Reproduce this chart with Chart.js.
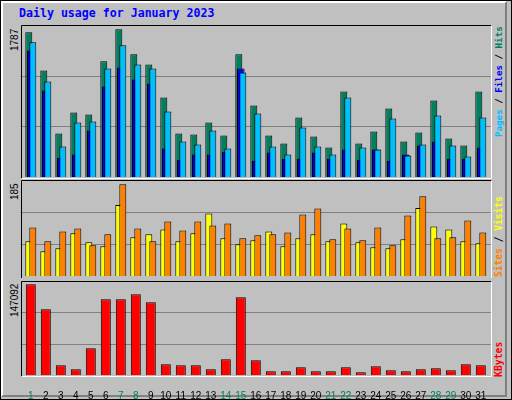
<!DOCTYPE html>
<html><head><meta charset="utf-8">
<script src="https://cdn.jsdelivr.net/npm/chart.js@4"></script>
<style>
html,body{margin:0;padding:0;}
body{width:512px;height:400px;position:relative;background:#C0C0C0;overflow:hidden;}
#outer{position:absolute;left:0;top:0;width:510px;height:398px;border:1px solid #000;}
#bev{position:absolute;left:1px;top:1px;width:502px;height:392px;border-left:2px solid #fff;border-top:2px solid #fff;border-right:2px solid #808080;border-bottom:2px solid #808080;}
canvas{position:absolute;left:0;}
.t{position:absolute;font-family:"DejaVu Sans Mono",monospace;font-weight:bold;}
.v{position:absolute;white-space:nowrap;transform-origin:0 0;transform:rotate(-90deg);}
</style></head><body>
<div id="outer"></div><div id="bev"></div>
<div class="t" style="left:19px;top:6px;font-size:11.6px;color:#0000FF;">Daily usage for January 2023</div>
<div class="v" style="left:9px;top:51px;font:10px 'Liberation Sans';color:#000;">1787</div>
<div class="v" style="left:9px;top:200px;font:10px 'Liberation Sans';color:#000;">185</div>
<div class="v" style="left:9px;top:317px;font:10px 'Liberation Sans';color:#000;">147092</div>
<div class="v t" style="left:493px;top:137px;font-size:9.2px;"><span style="color:#00BFFF">Pages</span><span style="color:#000"> / </span><span style="color:#0000FF">Files</span><span style="color:#000"> / </span><span style="color:#008060">Hits</span></div>
<div class="v t" style="left:493px;top:277px;font-size:9.6px;"><span style="color:#FF8000">Sites</span><span style="color:#000"> / </span><span style="color:#FFFF00">Visits</span></div>
<div class="v t" style="left:493px;top:377px;font-size:9.8px;color:#FF0000;">KBytes</div>
<canvas id="c1" width="512" height="180" style="top:0;width:512px;height:180px"></canvas>
<canvas id="c2" width="512" height="100" style="top:178px;width:512px;height:100px"></canvas>
<canvas id="c3" width="512" height="125" style="top:275px;width:512px;height:125px"></canvas>
<script>
const days = Array.from({length:31},(_,i)=>String(i+1));
const weekend = [1,7,8,14,15,21,22,28,29];
const hits  = [1751,1290,526,780,756,1399,1787,1484,1362,962,526,513,659,501,1484,865,501,404,720,489,356,1035,404,550,829,429,538,926,465,380,1035];
const files = [1629,1156,368,659,671,1314,1593,1362,1314,792,429,392,562,344,1265,768,368,271,598,368,271,962,356,332,708,259,392,744,380,247,720];
const pages = [1532,1047,234,271,562,1096,1326,1181,1132,344,210,271,271,307,1314,198,295,222,222,295,222,332,210,332,198,271,380,429,222,222,356];
const sites = [70,50,56,86,68,60,143,78,84,94,70,86,126,76,64,72,90,60,76,84,70,106,68,58,56,74,137,100,94,70,66];
const visits= [98,70,90,96,62,84,185,96,70,110,92,110,102,106,76,82,84,88,124,136,74,96,72,98,62,122,161,76,78,112,88];
const kbytes= [147092,106680,16164,9698,43643,122846,122846,130928,118000,17780,16164,16164,9698,25862,126079,24246,6466,6466,12931,6466,6466,12931,4849,14548,8082,6466,9698,11315,8082,17780,16164];
const maxHits=1787, maxVisits=185, maxKB=147092;

const framePlugin = {
  id:'frame',
  beforeDatasetsDraw(chart){
    const a=chart.chartArea, ctx=chart.ctx, y=chart.scales.y;
    const L=a.left-2.6, R=a.right+2.4;
    ctx.save(); ctx.strokeStyle='#808080'; ctx.lineWidth=1;
    y.ticks.forEach(t=>{ if(t.value>0 && t.value<y.max){const py=Math.round(y.getPixelForValue(t.value))+0.5; ctx.beginPath();ctx.moveTo(L,py);ctx.lineTo(R,py);ctx.stroke();}});
    ctx.restore();
    // draw datasets in index order so later datasets sit on top
    for(let i=0;i<chart.data.datasets.length;i++){ chart.getDatasetMeta(i).controller.draw(); }
    return false;
  },
  afterDraw(chart){
    const a=chart.chartArea, ctx=chart.ctx, o=chart.options.plugins.frame;
    const L=Math.round(a.left-2.6)+0.5, R=Math.round(a.right+2.4)+0.5, T=Math.round(a.top-o.top)+0.5, B=Math.round(a.bottom+o.bot)+0.5;
    ctx.save(); ctx.lineWidth=1;
    ctx.strokeStyle='#000'; ctx.beginPath(); ctx.moveTo(L,B); ctx.lineTo(L,T); ctx.lineTo(R,T); ctx.stroke();
    ctx.strokeStyle='#fff'; ctx.beginPath(); ctx.moveTo(R,T); ctx.lineTo(R,B); ctx.lineTo(L,B); ctx.stroke();
    ctx.restore();
  }
};

function makeChart(id, datasets, max, pad, showX, cp, frame){
  return new Chart(document.getElementById(id), {
    type:'bar',
    data:{labels:days, datasets},
    options:{
      responsive:false, animation:false, devicePixelRatio:1,
      layout:{padding:pad},
      plugins:{legend:{display:false}, tooltip:{enabled:false}, frame},
      scales:{
        x:{display:showX, grid:{display:false}, border:{display:false},
           afterFit:s=>{ if(showX) s.height=24.7; },
           ticks:{padding:7, maxRotation:0, autoSkip:false, font:{family:'Liberation Sans',size:10},
             color:c=>weekend.includes(c.index+1)?'#008060':'#000'}},
        y:{display:true, min:0, max:max, afterFit:s=>{s.width=0;},
           ticks:{display:false, stepSize:max/3}, grid:{display:false}, border:{display:false}}
      },
      datasets:{bar:{categoryPercentage:cp}}
    },
    plugins:[framePlugin]
  });
}

makeChart('c1',[
  {data:hits, backgroundColor:'#008060', borderColor:'#000', borderWidth:1, barPercentage:3.5},
  {data:pages, backgroundColor:'#0000FF', borderColor:'#000', borderWidth:1, barPercentage:3.8},
  {data:files, backgroundColor:'#00BFFF', borderColor:'#000', borderWidth:1, barPercentage:3.5}
], maxHits*151.7/147.7, {left:23.3, right:23.7, top:25.3, bottom:3}, false, 0.4, {top:0,bot:1});

makeChart('c2',[
  {data:sites, backgroundColor:'#FFFF00', borderColor:'#000', borderWidth:1, barPercentage:1.75},
  {data:visits, backgroundColor:'#FF8000', borderColor:'#000', borderWidth:1, barPercentage:1.75}
], maxVisits*95.7/91.7, {left:23.3, right:23.7, top:2.3, bottom:2}, false, 0.533, {top:0,bot:2});

makeChart('c3',[
  {data:kbytes, backgroundColor:'#FF0000', borderColor:'#000', borderWidth:1, barPercentage:0.667}
], maxKB*94.6/91, {left:23.3, right:23.7, top:5.7, bottom:0}, true, 1, {top:0,bot:1});
</script>
</body></html>
